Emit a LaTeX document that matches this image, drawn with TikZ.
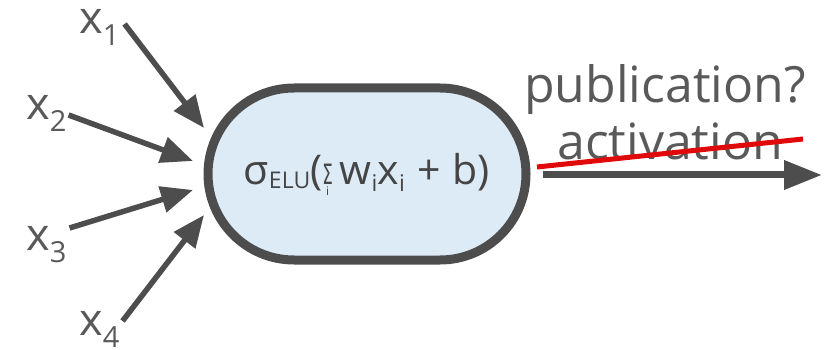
\documentclass[tikz,border=0pt]{standalone}
\usepackage{fontspec}
\setmainfont{Open Sans}
\newfontfamily\sigmafont[FakeStretch=0.6]{DejaVu Sans}
\usetikzlibrary{shapes.misc,arrows.meta}

\definecolor{ink}{HTML}{4D4D4D}
\definecolor{txt}{HTML}{595959}
\definecolor{formula}{HTML}{454545}
\definecolor{cellfill}{HTML}{DDEBF7}
\definecolor{strike}{HTML}{E00A0A}

% lowered subscripts for the input labels and the unit formula
\newcommand\insub[1]{\raisebox{-12pt}{\fontsize{29}{29}\selectfont #1}}
\newcommand\nsub[2]{\raisebox{-#1}{\fontsize{23}{23}\selectfont #2}}
% narrow summation sign with its index set underneath
\newsavebox\sumglyph
\newcommand\sumsym{%
  \sbox\sumglyph{\fontsize{28}{28}\sigmafont\symbol{"03A3}}%
  \usebox\sumglyph
  \llap{\makebox[\wd\sumglyph]{\raisebox{-11pt}{\fontsize{12}{12}\selectfont i}}}}

\begin{document}
\begin{tikzpicture}[x=1pt,y=-1pt,
  lbl/.style={inner sep=0pt, text=txt, anchor=base west,
    font=\fontsize{45}{45}\selectfont},
  unit/.style={rounded rectangle, draw=ink, line width=9pt, fill=cellfill,
    minimum width=318pt, minimum height=172pt, inner sep=0pt, text=formula,
    font=\fontsize{41}{41}\selectfont},
  word/.style={inner sep=0pt, text=txt, anchor=base west,
    font=\fontsize{50}{50}\selectfont},
  feed/.style={draw=ink, line width=5.5pt,
    -{Triangle[length=32pt,width=26pt]}},
  outflow/.style={draw=ink, line width=7pt,
    -{Triangle[length=38pt,width=28pt]}},
  cross/.style={draw=strike, line width=5pt}]
\useasboundingbox (0,0) rectangle (833,350);

% the unit
\node[unit] (neuron) at (367,174)
  {\raisebox{-8pt}{σ\nsub{4pt}{ELU}(\sumsym\,w\nsub{7pt}{i}x\nsub{7pt}{i}\hspace{0.3em}+\hspace{0.3em}b)}};

% inputs
\node[lbl] (x1) at (79,34) {x\insub{1}};
\node[lbl] (x2) at (26,120) {x\insub{2}};
\node[lbl] (x3) at (26,250) {x\insub{3}};
\node[lbl] (x4) at (79,335) {x\insub{4}};

\coordinate (t1) at (204,128);
\coordinate (t2) at (193,161);
\coordinate (t3) at (193,190);
\coordinate (t4) at (204,215);

\draw[feed] ([shift={(5,-10)}]x1.base east) -- (t1);
\draw[feed] ([shift={(2,-5)}]x2.base east) -- (t2);
\draw[feed] ([shift={(3,-22)}]x3.base east) -- (t3);
\draw[feed] ([shift={(3,-14)}]x4.base east) -- (t4);

% output
\coordinate (o) at (822,175);
\draw[outflow] ([xshift=12pt]neuron.east |- o) -- (o);

\node[word] (pub) at (524,103) {publication?};
\node[word] (act) at (557,160) {activation};

\coordinate (c1) at (537,167);
\coordinate (c2) at (803,139);
\draw[cross] (c1) -- (c2);
\end{tikzpicture}
\end{document}
